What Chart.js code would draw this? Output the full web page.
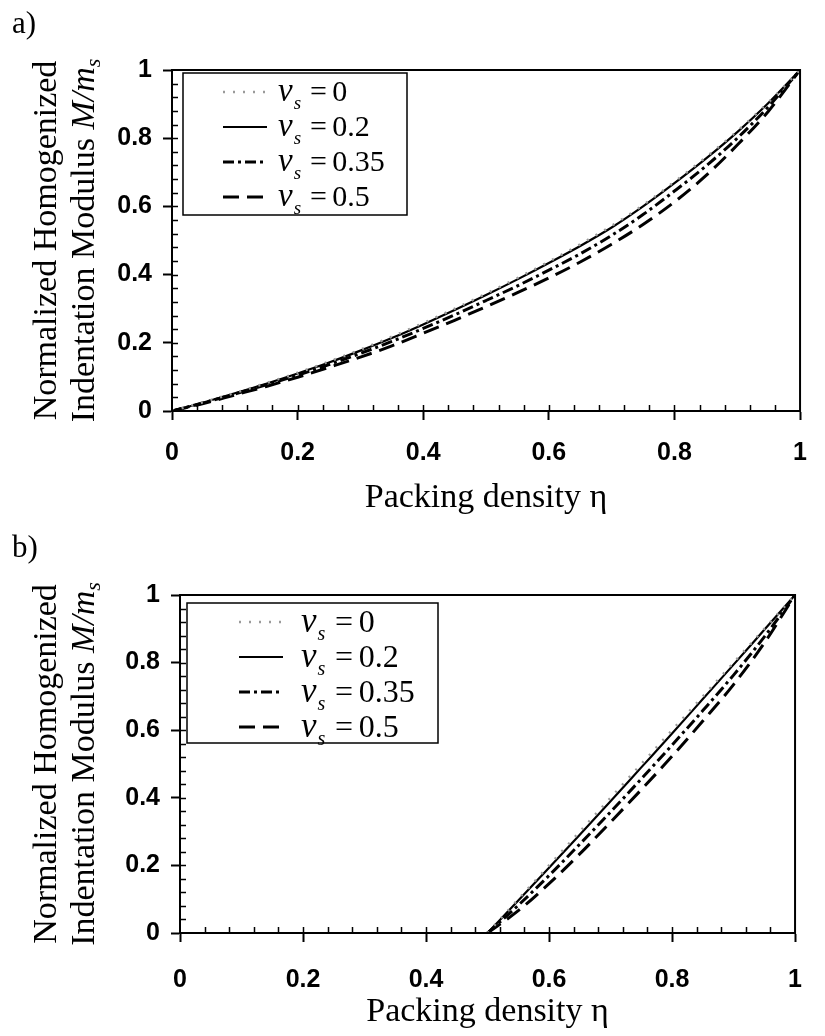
<!DOCTYPE html>
<html>
<head>
<meta charset="utf-8">
<script src="https://cdn.jsdelivr.net/npm/chart.js@4.4.1/dist/chart.umd.min.js"></script>
<style>
  html, body { margin: 0; padding: 0; background: #fff; }
  #wrap { position: relative; width: 825px; height: 1036px; overflow: hidden; }
  .panel { position: absolute; left: 0; width: 825px; height: 518px; }
</style>
</head>
<body>
<div id="wrap">
  <div class="panel" style="top:0"><canvas id="chartA" width="825" height="518"></canvas></div>
  <div class="panel" style="top:518px"><canvas id="chartB" width="825" height="518"></canvas></div>
</div>
<script>
// Poisson ratios of the solid phase (legend entries)
const nuLabels = ['0', '0.2', '0.35', '0.5'];

// Panel a): packing density and normalized modulus M/m_s
const etaA    = [0, 0.05, 0.1, 0.15, 0.2, 0.25, 0.3, 0.35, 0.4, 0.45, 0.5, 0.55, 0.6, 0.65, 0.7, 0.75, 0.8, 0.85, 0.9, 0.95, 1];
const nu0A    = [0, 0.026, 0.053, 0.082, 0.112, 0.145, 0.180, 0.218, 0.258, 0.300, 0.344, 0.390, 0.438, 0.489, 0.543, 0.604, 0.672, 0.744, 0.821, 0.906, 1];
const nu02A   = [0, 0.025, 0.052, 0.080, 0.110, 0.142, 0.177, 0.214, 0.254, 0.296, 0.340, 0.386, 0.434, 0.484, 0.538, 0.600, 0.668, 0.740, 0.818, 0.904, 1];
const nu035A  = [0, 0.024, 0.050, 0.077, 0.105, 0.136, 0.169, 0.204, 0.242, 0.282, 0.324, 0.367, 0.413, 0.461, 0.515, 0.576, 0.645, 0.718, 0.800, 0.893, 1];
const nu05A   = [0, 0.022, 0.047, 0.072, 0.099, 0.128, 0.158, 0.191, 0.228, 0.266, 0.306, 0.347, 0.390, 0.437, 0.489, 0.547, 0.613, 0.690, 0.780, 0.880, 1];

// Panel b): percolation threshold at eta = 0.5
const etaB    = [0.5, 0.55, 0.6, 0.65, 0.7, 0.75, 0.8, 0.85, 0.9, 0.95, 1];
const nu0B    = [0, 0.100, 0.200, 0.300, 0.400, 0.500, 0.600, 0.700, 0.800, 0.900, 1];
const nu02B   = [0, 0.096, 0.193, 0.291, 0.390, 0.490, 0.590, 0.692, 0.794, 0.897, 1];
const nu035B  = [0, 0.082, 0.170, 0.263, 0.358, 0.456, 0.556, 0.658, 0.763, 0.876, 1];
const nu05B   = [0, 0.066, 0.146, 0.234, 0.328, 0.424, 0.523, 0.627, 0.735, 0.858, 1];

// Axis ticks
const xTickValues = [0, 0.2, 0.4, 0.6, 0.8, 1];
const xTickLabels = ['0', '0.2', '0.4', '0.6', '0.8', '1'];
const yTickValues = [0, 0.2, 0.4, 0.6, 0.8, 1];
const yTickLabels = ['0', '0.2', '0.4', '0.6', '0.8', '1'];
const minorStep = 0.04;

const xTitle = 'Packing density \u03B7';
const yTitleLine1 = 'Normalized Homogenized';
const yTitleLine2 = [
  { t: 'Indentation Modulus ', it: false },
  { t: 'M/m', it: true },
  { t: 's', it: true, sub: true }
];

// Line styles per Poisson ratio
const lineStyles = [
  { borderColor: '#9a9a9a', borderWidth: 2.5, borderDash: [2, 8] },
  { borderColor: '#000',    borderWidth: 2.2, borderDash: [] },
  { borderColor: '#000',    borderWidth: 3,   borderDash: [11, 4, 3, 4] },
  { borderColor: '#000',    borderWidth: 3,   borderDash: [16, 8] }
];

const SERIF = '"Liberation Serif", "Times New Roman", serif';
const SANS = '"Liberation Sans", Arial, sans-serif';

// Frame, minor ticks, legend, titles and panel letter
const decor = {
  id: 'decor',
  afterDraw(chart) {
    const g = chart.options.plugins.decor;
    const ctx = chart.ctx;
    const a = chart.chartArea;
    const xs = chart.scales.x, ys = chart.scales.y;
    ctx.save();

    // plot frame
    ctx.strokeStyle = '#000';
    ctx.lineWidth = 2;
    ctx.setLineDash([]);
    ctx.strokeRect(a.left, a.top, a.right - a.left, a.bottom - a.top);

    // inward minor ticks
    ctx.lineWidth = 1.5;
    ctx.beginPath();
    for (let v = minorStep; v < 1 - 1e-6; v += minorStep) {
      const px = Math.round(xs.getPixelForValue(v)) + 0.5;
      ctx.moveTo(px, a.bottom);
      ctx.lineTo(px, a.bottom - g.minorLen);
      const py = Math.round(ys.getPixelForValue(v)) + 0.5;
      ctx.moveTo(a.left, py);
      ctx.lineTo(a.left + g.minorLen, py);
    }
    ctx.stroke();

    // legend
    const L = g.legend;
    ctx.fillStyle = '#fff';
    ctx.fillRect(L.x, L.y, L.w, L.h);
    ctx.lineWidth = 1.5;
    ctx.strokeStyle = '#000';
    ctx.strokeRect(L.x, L.y, L.w, L.h);
    const fs = L.font;
    chart.data.datasets.forEach((ds, i) => {
      const cy = L.y + L.row0 + i * L.rowGap;
      ctx.beginPath();
      ctx.setLineDash(ds.borderDash || []);
      ctx.strokeStyle = ds.borderColor;
      ctx.lineWidth = ds.borderWidth;
      ctx.moveTo(L.x + L.s0, cy);
      ctx.lineTo(L.x + L.s1, cy);
      ctx.stroke();
      ctx.setLineDash([]);

      let x = L.x + L.tx;
      const base = cy + fs * 0.3;
      ctx.fillStyle = '#000';
      ctx.textAlign = 'left';
      ctx.textBaseline = 'alphabetic';
      ctx.font = `italic ${Math.round(fs * 1.1)}px ${SERIF}`;
      ctx.fillText('\u03BD', x, base);
      x += ctx.measureText('\u03BD').width + 1;
      ctx.font = `italic ${Math.round(fs * 0.62)}px ${SERIF}`;
      ctx.fillText('s', x, base + fs * 0.26);
      x += ctx.measureText('s').width + fs * 0.3;
      ctx.font = `${fs}px ${SERIF}`;
      ctx.fillText('=', x, base);
      x += ctx.measureText('=').width + fs * 0.18;
      ctx.fillText(nuLabels[i], x, base);
    });

    // x title
    ctx.fillStyle = '#000';
    ctx.font = `${g.titleFont}px ${SERIF}`;
    ctx.textAlign = 'center';
    ctx.textBaseline = 'alphabetic';
    ctx.fillText(xTitle, (a.left + a.right) / 2, g.xTitleBase);

    // y title, two rotated lines
    const midY = (a.top + a.bottom) / 2;
    ctx.save();
    ctx.translate(g.yTitleX1, midY);
    ctx.rotate(-Math.PI / 2);
    ctx.textBaseline = 'middle';
    ctx.textAlign = 'center';
    ctx.font = `${g.titleFont}px ${SERIF}`;
    ctx.fillText(yTitleLine1, 0, 0);
    ctx.restore();

    ctx.save();
    ctx.translate(g.yTitleX2, midY);
    ctx.rotate(-Math.PI / 2);
    ctx.textBaseline = 'middle';
    ctx.textAlign = 'left';
    const segFont = s => s.sub ? `italic ${Math.round(g.titleFont * 0.66)}px ${SERIF}`
                               : `${s.it ? 'italic ' : ''}${g.titleFont}px ${SERIF}`;
    let total = 0;
    yTitleLine2.forEach(s => { ctx.font = segFont(s); total += ctx.measureText(s.t).width; });
    let tx = -total / 2;
    yTitleLine2.forEach(s => {
      ctx.font = segFont(s);
      ctx.fillText(s.t, tx, s.sub ? g.titleFont * 0.28 : 0);
      tx += ctx.measureText(s.t).width;
    });
    ctx.restore();

    // panel letter
    ctx.font = `${g.letterFont}px ${SERIF}`;
    ctx.textAlign = 'left';
    ctx.textBaseline = 'alphabetic';
    ctx.fillText(g.letter, g.letterX, g.letterBase);

    ctx.restore();
  }
};

function buildDatasets(eta, series) {
  return series.map((vals, i) => Object.assign({
    label: '\u03BDs = ' + nuLabels[i],
    data: eta.map((x, k) => ({ x: x, y: vals[k] })),
    fill: false,
    pointRadius: 0,
    cubicInterpolationMode: 'monotone'
  }, lineStyles[i]));
}

function makeChart(id, eta, series, geo) {
  const tickFont = { family: SANS, size: 25, weight: 'bold' };
  return new Chart(document.getElementById(id), {
    type: 'line',
    data: { datasets: buildDatasets(eta, series) },
    options: {
      responsive: false,
      animation: false,
      devicePixelRatio: 1,
      layout: { padding: { left: 0, right: 825 - geo.right, top: geo.top, bottom: 0 } },
      plugins: {
        legend: { display: false },
        tooltip: { enabled: false },
        decor: geo.decor
      },
      scales: {
        x: {
          type: 'linear', min: 0, max: 1,
          afterBuildTicks: s => { s.ticks = xTickValues.map(v => ({ value: v })); },
          afterFit: s => { s.height = geo.axisH; },
          ticks: { callback: (v, i) => xTickLabels[i], font: tickFont, color: '#000', padding: geo.xPad, maxRotation: 0, autoSkip: false },
          grid: { drawOnChartArea: false, tickLength: 9, tickWidth: 2, tickColor: '#000' },
          border: { color: '#000', width: 2 }
        },
        y: {
          type: 'linear', min: 0, max: 1,
          afterBuildTicks: s => { s.ticks = yTickValues.map(v => ({ value: v })); },
          afterFit: s => { s.width = geo.left; },
          ticks: { callback: (v, i) => yTickLabels[i], font: tickFont, color: '#000', padding: 11, autoSkip: false },
          grid: { drawOnChartArea: false, tickLength: 9, tickWidth: 2, tickColor: '#000' },
          border: { color: '#000', width: 2 }
        }
      }
    },
    plugins: [decor]
  });
}

makeChart('chartA', etaA, [nu0A, nu02A, nu035A, nu05A], {
  left: 172, right: 811, top: 70, axisH: 107, xPad: 18,
  decor: {
    minorLen: 6, titleFont: 34, letterFont: 31,
    letter: 'a)', letterX: 12, letterBase: 33,
    xTitleBase: 507, yTitleX1: 47, yTitleX2: 85,
    legend: { x: 183, y: 73, w: 224, h: 142, font: 30, row0: 19, rowGap: 35, s0: 40, s1: 84, tx: 95 }
  }
});

makeChart('chartB', etaB, [nu0B, nu02B, nu035B, nu05B], {
  left: 180, right: 815, top: 77, axisH: 103, xPad: 23,
  decor: {
    minorLen: 6, titleFont: 34, letterFont: 31,
    letter: 'b)', letterX: 12, letterBase: 39,
    xTitleBase: 503, yTitleX1: 47, yTitleX2: 85,
    legend: { x: 187, y: 85, w: 251, h: 140, font: 32, row0: 19, rowGap: 35, s0: 52, s1: 96, tx: 114 }
  }
});
</script>
</body>
</html>
